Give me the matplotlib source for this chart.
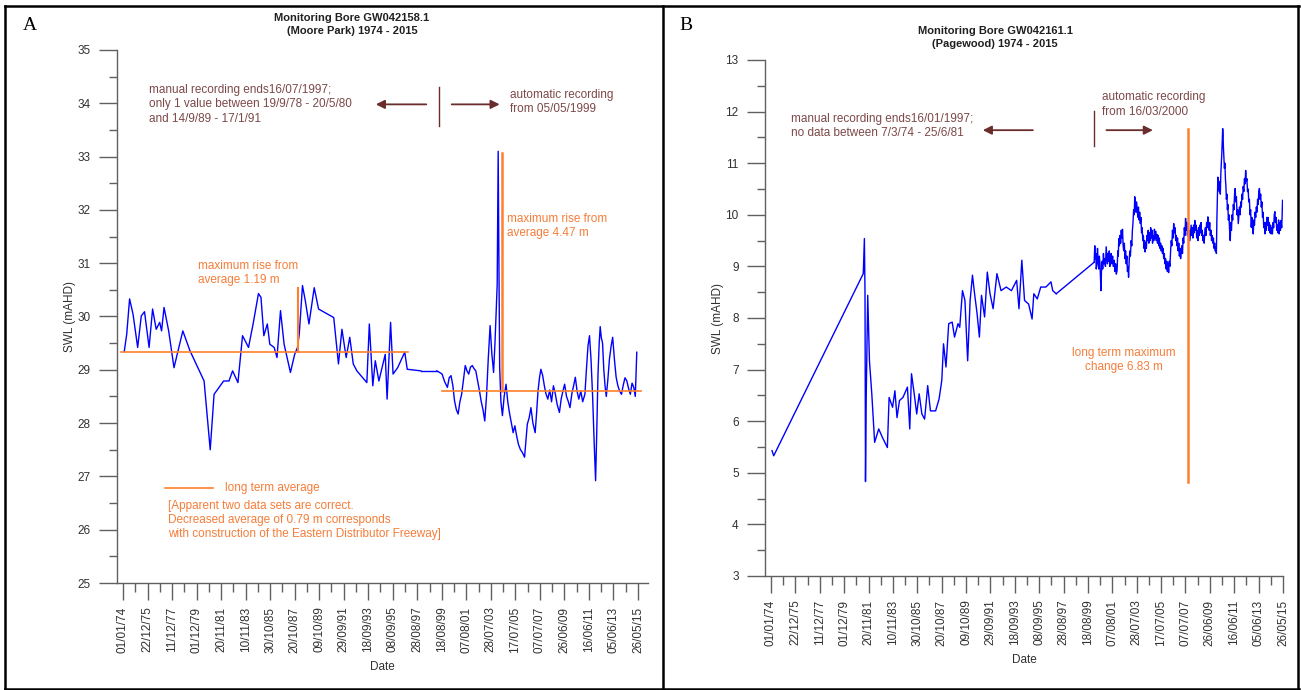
import matplotlib
matplotlib.use("Agg")
import matplotlib.pyplot as plt
import matplotlib.dates as mdates
from matplotlib.lines import Line2D
from matplotlib.ticker import FixedLocator, MultipleLocator, FuncFormatter
from datetime import datetime, timedelta

plt.rcParams['font.family'] = ['Liberation Sans', 'DejaVu Sans']

# ---------------- data (decimal year, SWL mAHD) ----------------
A_manual = [(1974.10, 29.34), (1974.30, 29.67), (1974.53, 30.33), (1974.81, 30.04), (1975.18, 29.42),
            (1975.47, 30.01), (1975.73, 30.09), (1976.10, 29.42), (1976.38, 30.14), (1976.67, 29.76),
            (1976.95, 29.89), (1977.10, 29.73), (1977.30, 30.17), (1977.67, 29.73), (1978.10, 29.04),
            (1978.81, 29.73), (1979.38, 29.36), (1980.52, 28.79), (1981.01, 27.50), (1981.32, 28.54),
            (1982.09, 28.79), (1982.52, 28.79), (1982.81, 28.98), (1983.24, 28.76), (1983.61, 29.64),
            (1984.09, 29.42), (1984.46, 29.86), (1984.89, 30.43), (1985.09, 30.36), (1985.32, 29.64),
            (1985.60, 29.86), (1985.80, 29.48), (1986.15, 29.42), (1986.38, 29.23), (1986.66, 30.11),
            (1986.95, 29.48), (1987.46, 28.95), (1987.80, 29.29), (1988.03, 29.42), (1988.17, 29.67),
            (1988.43, 30.58), (1988.66, 30.29), (1988.95, 29.86), (1989.37, 30.54), (1989.72, 30.14),
            (1990.94, 29.98), (1991.32, 29.11), (1991.60, 29.76), (1991.94, 29.23), (1992.23, 29.61),
            (1992.51, 29.11), (1992.80, 28.98), (1993.60, 28.76), (1993.80, 29.86), (1994.08, 28.70),
            (1994.28, 29.17), (1994.57, 28.79), (1995.08, 29.29), (1995.23, 28.45), (1995.51, 29.89),
            (1995.71, 28.92), (1996.08, 29.04), (1996.45, 29.23), (1996.65, 29.33), (1996.85, 29.01),
            (1997.94, 28.98)]
A_auto = [(1999.22, 28.98), (1999.45, 28.95), (1999.65, 28.92), (1999.85, 28.78), (2000.08, 28.67),
          (2000.22, 28.85), (2000.37, 28.89), (2000.52, 28.70), (2000.65, 28.42), (2000.80, 28.25),
          (2000.94, 28.17), (2001.08, 28.40), (2001.22, 28.54), (2001.36, 28.80), (2001.51, 29.08),
          (2001.65, 28.98), (2001.79, 28.92), (2001.93, 29.05), (2002.08, 29.08), (2002.22, 29.02),
          (2002.36, 28.98), (2002.50, 28.80), (2002.65, 28.61), (2002.80, 28.40), (2002.94, 28.25),
          (2003.08, 28.04), (2003.22, 28.50), (2003.36, 29.20), (2003.51, 29.83), (2003.65, 29.30),
          (2003.79, 28.95), (2003.90, 29.50), (2003.99, 30.04), (2004.08, 30.60), (2004.16, 33.10),
          (2004.22, 31.00), (2004.28, 29.04), (2004.38, 28.40), (2004.50, 28.14), (2004.64, 28.50),
          (2004.79, 28.73), (2004.93, 28.40), (2005.08, 28.17), (2005.22, 28.00), (2005.36, 27.82),
          (2005.50, 27.95), (2005.65, 27.75), (2005.79, 27.60), (2005.95, 27.50), (2006.10, 27.45),
          (2006.28, 27.36), (2006.40, 27.70), (2006.50, 27.98), (2006.65, 28.10), (2006.79, 28.29),
          (2006.95, 28.00), (2007.13, 27.82), (2007.25, 28.20), (2007.36, 28.60), (2007.48, 28.85),
          (2007.59, 29.01), (2007.73, 28.90), (2007.87, 28.70), (2008.00, 28.55), (2008.15, 28.45),
          (2008.30, 28.62), (2008.45, 28.40), (2008.60, 28.70), (2008.75, 28.55), (2008.90, 28.35),
          (2009.08, 28.20), (2009.22, 28.45), (2009.36, 28.60), (2009.50, 28.73), (2009.65, 28.50),
          (2009.80, 28.40), (2009.93, 28.29), (2010.08, 28.55), (2010.22, 28.70), (2010.36, 28.86),
          (2010.50, 28.60), (2010.64, 28.45), (2010.80, 28.60), (2010.95, 28.40), (2011.13, 28.54),
          (2011.25, 29.00), (2011.38, 29.45), (2011.50, 29.64), (2011.62, 29.20), (2011.75, 28.50),
          (2011.88, 27.60), (2011.99, 26.92), (2012.08, 27.80), (2012.18, 28.90), (2012.28, 29.50),
          (2012.36, 29.81), (2012.45, 29.60), (2012.55, 29.50), (2012.65, 29.00), (2012.75, 28.70),
          (2012.85, 28.50), (2012.97, 28.80), (2013.10, 29.20), (2013.24, 29.45), (2013.36, 29.61),
          (2013.50, 29.20), (2013.64, 28.86), (2013.78, 28.70), (2013.92, 28.60), (2014.07, 28.54),
          (2014.20, 28.70), (2014.35, 28.85), (2014.50, 28.79), (2014.64, 28.65), (2014.78, 28.54),
          (2014.92, 28.75), (2015.06, 28.67), (2015.18, 28.50), (2015.30, 29.33)]

B_manual = [(1974.08, 5.43), (1974.22, 5.33), (1981.46, 8.86), (1981.55, 9.54), (1981.60, 8.50),
            (1981.64, 4.83), (1981.70, 6.50), (1981.82, 8.44), (1981.96, 7.17), (1982.15, 6.53),
            (1982.38, 5.59), (1982.71, 5.85), (1983.00, 5.69), (1983.41, 5.49), (1983.55, 6.46),
            (1983.83, 6.27), (1984.02, 6.59), (1984.19, 6.07), (1984.39, 6.40), (1984.67, 6.46),
            (1985.03, 6.66), (1985.22, 5.85), (1985.36, 6.92), (1985.58, 6.53), (1985.78, 6.14),
            (1985.98, 6.53), (1986.20, 6.14), (1986.42, 6.04), (1986.67, 6.69), (1986.89, 6.20),
            (1987.31, 6.20), (1987.59, 6.43), (1987.81, 6.79), (1987.95, 7.50), (1988.15, 7.05),
            (1988.37, 7.89), (1988.65, 7.92), (1988.84, 7.63), (1989.12, 7.89), (1989.26, 7.82),
            (1989.48, 8.53), (1989.68, 8.34), (1989.90, 7.17), (1990.10, 8.34), (1990.29, 8.83),
            (1990.46, 8.47), (1990.65, 8.11), (1990.85, 7.63), (1991.02, 8.44), (1991.27, 8.02),
            (1991.49, 8.89), (1991.71, 8.47), (1991.96, 8.18), (1992.27, 8.86), (1992.60, 8.53),
            (1993.02, 8.60), (1993.44, 8.53), (1993.86, 8.73), (1994.05, 8.18), (1994.28, 9.12),
            (1994.50, 8.34), (1994.83, 8.27), (1995.11, 7.98), (1995.25, 8.47), (1995.53, 8.37),
            (1995.81, 8.60), (1996.23, 8.60), (1996.64, 8.70), (1996.78, 8.53), (1997.06, 8.47)]
B_auto = [(2000.13, 9.08), (2000.18, 9.40), (2000.22, 9.15), (2000.26, 9.25), (2000.30, 8.95),
          (2000.35, 9.05), (2000.40, 9.35), (2000.45, 9.10), (2000.50, 8.95), (2000.55, 9.20),
          (2000.60, 9.05), (2000.65, 8.70), (2000.68, 8.53), (2000.72, 8.90), (2000.78, 9.10),
          (2000.82, 8.95), (2000.88, 9.25), (2000.93, 9.05), (2000.98, 9.15), (2001.04, 9.00),
          (2001.10, 9.38), (2001.15, 9.20), (2001.20, 9.05), (2001.25, 9.25), (2001.30, 9.10),
          (2001.35, 9.30), (2001.40, 9.00), (2001.45, 9.15), (2001.50, 9.25), (2001.56, 9.05),
          (2001.62, 9.20), (2001.68, 9.00), (2001.75, 9.12), (2001.80, 8.90), (2001.86, 9.05),
          (2001.92, 8.85), (2001.98, 8.92), (2002.04, 9.30), (2002.08, 9.20), (2002.12, 9.54),
          (2002.17, 9.40), (2002.22, 9.60), (2002.27, 9.45), (2002.32, 9.70), (2002.37, 9.55),
          (2002.42, 9.72), (2002.47, 9.40), (2002.52, 9.30), (2002.57, 9.45), (2002.62, 9.15),
          (2002.67, 9.30), (2002.72, 9.05), (2002.77, 9.20), (2002.82, 8.90), (2002.87, 9.00),
          (2002.91, 8.79), (2002.96, 9.10), (2003.01, 9.30), (2003.06, 9.20), (2003.12, 9.50),
          (2003.17, 9.40), (2003.22, 9.70), (2003.27, 9.85), (2003.32, 10.10), (2003.37, 10.00),
          (2003.41, 10.35), (2003.46, 10.25), (2003.51, 10.05), (2003.56, 10.25), (2003.61, 10.10),
          (2003.66, 9.95), (2003.71, 10.15), (2003.76, 9.90), (2003.81, 10.05), (2003.86, 9.83),
          (2003.91, 9.95), (2003.96, 9.65), (2004.01, 9.75), (2004.06, 9.50), (2004.11, 9.60),
          (2004.16, 9.35), (2004.21, 9.50), (2004.25, 9.28), (2004.30, 9.45), (2004.35, 9.35),
          (2004.40, 9.60), (2004.45, 9.50), (2004.50, 9.70), (2004.55, 9.45), (2004.60, 9.65),
          (2004.65, 9.50), (2004.70, 9.75), (2004.75, 9.55), (2004.80, 9.70), (2004.85, 9.45),
          (2004.90, 9.60), (2004.95, 9.50), (2005.00, 9.72), (2005.05, 9.55), (2005.10, 9.68),
          (2005.15, 9.50), (2005.20, 9.62), (2005.25, 9.45), (2005.30, 9.60), (2005.35, 9.40),
          (2005.40, 9.55), (2005.45, 9.35), (2005.50, 9.45), (2005.55, 9.30), (2005.60, 9.40),
          (2005.65, 9.25), (2005.70, 9.35), (2005.75, 9.15), (2005.80, 9.25), (2005.85, 9.05),
          (2005.90, 9.15), (2005.95, 8.95), (2006.00, 9.10), (2006.05, 8.90), (2006.10, 9.05),
          (2006.15, 8.88), (2006.20, 9.10), (2006.25, 9.00), (2006.31, 9.30), (2006.36, 9.50),
          (2006.41, 9.40), (2006.46, 9.70), (2006.51, 9.55), (2006.56, 9.83), (2006.61, 9.65),
          (2006.67, 9.75), (2006.72, 9.50), (2006.77, 9.60), (2006.82, 9.40), (2006.87, 9.55),
          (2006.92, 9.30), (2006.97, 9.45), (2007.02, 9.20), (2007.07, 9.35), (2007.12, 9.15),
          (2007.17, 9.30), (2007.22, 9.40), (2007.27, 9.25), (2007.32, 9.55), (2007.37, 9.45),
          (2007.42, 9.75), (2007.47, 9.60), (2007.52, 9.93), (2007.57, 9.70), (2007.62, 9.85),
          (2007.67, 9.60), (2007.72, 9.75), (2007.77, 9.55), (2007.82, 9.70), (2007.87, 9.50),
          (2007.92, 9.65), (2007.97, 9.80), (2008.02, 9.60), (2008.07, 9.75), (2008.12, 9.55),
          (2008.17, 9.80), (2008.22, 9.65), (2008.27, 9.89), (2008.32, 9.70), (2008.37, 9.80),
          (2008.42, 9.55), (2008.47, 9.70), (2008.52, 9.50), (2008.57, 9.75), (2008.62, 9.60),
          (2008.67, 9.80), (2008.72, 9.65), (2008.77, 9.85), (2008.82, 9.60), (2008.87, 9.70),
          (2008.92, 9.50), (2008.97, 9.60), (2009.02, 9.45), (2009.07, 9.65), (2009.12, 9.75),
          (2009.17, 9.60), (2009.22, 9.85), (2009.27, 9.75), (2009.32, 9.96), (2009.37, 9.80),
          (2009.42, 9.70), (2009.47, 9.85), (2009.52, 9.60), (2009.57, 9.70), (2009.62, 9.50),
          (2009.67, 9.60), (2009.72, 9.45), (2009.77, 9.55), (2009.82, 9.35), (2009.87, 9.45),
          (2009.92, 9.30), (2009.97, 9.38), (2010.01, 9.25), (2010.05, 9.90), (2010.09, 10.30),
          (2010.13, 10.73), (2010.17, 10.50), (2010.21, 10.65), (2010.25, 10.45), (2010.29, 10.60),
          (2010.33, 10.40), (2010.37, 10.80), (2010.41, 11.00), (2010.45, 11.20), (2010.49, 11.45),
          (2010.52, 11.67), (2010.55, 11.55), (2010.58, 11.30), (2010.62, 11.10), (2010.66, 10.90),
          (2010.70, 11.00), (2010.74, 10.70), (2010.78, 10.55), (2010.82, 10.30), (2010.86, 10.40),
          (2010.90, 10.10), (2010.94, 10.20), (2010.98, 9.90), (2011.03, 10.00), (2011.08, 9.70),
          (2011.13, 9.50), (2011.18, 9.85), (2011.23, 9.70), (2011.28, 10.00), (2011.33, 9.90),
          (2011.38, 10.20), (2011.43, 10.10), (2011.48, 10.40), (2011.53, 10.51), (2011.58, 10.25),
          (2011.63, 10.35), (2011.68, 10.00), (2011.73, 10.10), (2011.78, 9.83), (2011.83, 10.00),
          (2011.88, 10.15), (2011.93, 10.00), (2011.98, 10.25), (2012.03, 10.15), (2012.08, 10.40),
          (2012.13, 10.30), (2012.18, 10.55), (2012.23, 10.45), (2012.28, 10.70), (2012.33, 10.60),
          (2012.38, 10.86), (2012.43, 10.65), (2012.48, 10.70), (2012.53, 10.45), (2012.58, 10.50),
          (2012.63, 10.25), (2012.68, 10.30), (2012.73, 10.00), (2012.78, 10.10), (2012.83, 9.76),
          (2012.88, 9.95), (2012.93, 9.75), (2012.99, 9.63), (2013.04, 9.90), (2013.09, 9.80),
          (2013.14, 10.05), (2013.19, 9.95), (2013.24, 10.15), (2013.29, 10.05), (2013.34, 10.30),
          (2013.39, 10.20), (2013.44, 10.45), (2013.49, 10.51), (2013.54, 10.30), (2013.59, 10.40),
          (2013.64, 10.15), (2013.69, 10.25), (2013.74, 9.95), (2013.79, 10.05), (2013.84, 9.75),
          (2013.89, 9.85), (2013.94, 9.63), (2013.99, 9.85), (2014.04, 9.70), (2014.09, 9.95),
          (2014.14, 9.80), (2014.19, 9.95), (2014.24, 9.70), (2014.29, 9.85), (2014.34, 9.65),
          (2014.39, 9.80), (2014.44, 9.63), (2014.49, 9.75), (2014.54, 9.63), (2014.59, 9.85),
          (2014.64, 9.75), (2014.69, 10.00), (2014.74, 10.06), (2014.79, 9.85), (2014.84, 9.95),
          (2014.89, 9.70), (2014.94, 9.80), (2014.99, 9.65), (2015.04, 9.90), (2015.09, 9.63),
          (2015.14, 9.85), (2015.19, 9.70), (2015.24, 9.89), (2015.29, 9.75), (2015.33, 10.00),
          (2015.36, 10.28)]

A_avg_manual = 29.34
A_avg_auto = 28.60
A_rise_manual = 1.19
A_rise_auto = 4.47
B_min = 4.83
B_change = 6.83

tick_start = datetime(1974, 1, 1)
tick_step_days = 720
n_ticks = 22

# ---------------- helpers ----------------
W, H = 1301, 690
BLUE = '#0000ff'
ORANGE = '#ff7f2a'
ORANGE_TXT = '#f57d3a'
BROWN_TXT = '#7d4848'
BROWN = '#6b2c2c'
AX_COL = '#606060'
TXT_COL = '#303030'


def yd(y):
    yi = int(y)
    return mdates.date2num(datetime(yi, 1, 1) + timedelta(days=(y - yi) * 365.25))


def series(pairs):
    return [yd(p[0]) for p in pairs], [p[1] for p in pairs]


fig = plt.figure(figsize=(W / 100, H / 100), dpi=100)


def px_axes(l, r, t, b):
    return fig.add_axes([l / W, 1 - b / H, (r - l) / W, (b - t) / H])


major = [tick_start + timedelta(days=tick_step_days * k) for k in range(n_ticks)]
minor = [tick_start + timedelta(days=tick_step_days * k + 360) for k in range(n_ticks - 1)]
major_num = mdates.date2num(major)
minor_num = mdates.date2num(minor)


def style(ax, ylo, yhi, xl_off, xr_off):
    ax.set_xlim(major_num[0] - xl_off, major_num[-1] + xr_off)
    ax.set_ylim(ylo, yhi)
    for s in ['top', 'right']:
        ax.spines[s].set_visible(False)
    for s in ['left', 'bottom']:
        ax.spines[s].set_color(AX_COL)
        ax.spines[s].set_linewidth(1.0)
    ax.xaxis.set_major_locator(FixedLocator(major_num))
    ax.xaxis.set_minor_locator(FixedLocator(minor_num))
    ax.xaxis.set_major_formatter(mdates.DateFormatter('%d/%m/%y'))
    ax.yaxis.set_major_locator(MultipleLocator(1))
    ax.yaxis.set_minor_locator(MultipleLocator(0.5))
    ax.yaxis.set_major_formatter(FuncFormatter(lambda v, p: f'{v:.0f}'))
    ax.tick_params(axis='x', which='major', length=12, width=1.0, color=AX_COL, pad=5,
                   labelsize=8.5, labelcolor=TXT_COL, labelrotation=90)
    ax.tick_params(axis='x', which='minor', length=6.5, width=1.0, color=AX_COL)
    ax.tick_params(axis='y', which='major', length=13, width=1.0, color=AX_COL, pad=6,
                   labelsize=8.5, labelcolor=TXT_COL)
    ax.tick_params(axis='y', which='minor', length=6, width=1.0, color=AX_COL)
    ax.set_xlabel('Date', fontsize=8.5, color=TXT_COL, labelpad=6)
    ax.set_ylabel('SWL (mAHD)', fontsize=8.5, color=TXT_COL, labelpad=1)
    ax.patch.set_alpha(0)


arrow_kw = dict(arrowstyle='-|>', color=BROWN, lw=1.3, mutation_scale=13)

# ---------------- Panel A ----------------
axA = px_axes(117, 648, 50, 583)
style(axA, 25, 35, 176, 294)
for part in (A_manual, A_auto):
    xs, ys = series(part)
    axA.plot(xs, ys, color=BLUE, lw=1.0, zorder=3)
xs, ys = series([A_manual[-1], A_auto[0]])
axA.plot(xs, ys, color=BLUE, lw=1.0, zorder=3)
axA.plot([yd(1973.80), yd(1996.90)], [A_avg_manual, A_avg_manual], color=ORANGE, lw=1.2, zorder=4)
axA.plot([yd(1999.65), yd(2015.65)], [A_avg_auto, A_avg_auto], color=ORANGE, lw=1.2, zorder=4)
axA.plot([yd(1988.10)] * 2, [A_avg_manual, A_avg_manual + A_rise_manual], color=ORANGE, lw=1.5, zorder=4)
axA.plot([yd(2004.50)] * 2, [A_avg_auto, A_avg_auto + A_rise_auto], color=ORANGE, lw=1.8, zorder=4)

axA.text(yd(1980.0), 30.81, 'maximum rise from\naverage 1.19 m', color=ORANGE_TXT, fontsize=8.5,
         ha='left', va='center', linespacing=1.25)
axA.text(yd(2004.85), 31.70, 'maximum rise from\naverage 4.47 m', color=ORANGE_TXT, fontsize=8.5,
         ha='left', va='center', linespacing=1.25)
axA.plot([yd(1977.4), yd(1981.2)], [26.78, 26.78], color=ORANGE, lw=1.2)
axA.text(yd(1982.2), 26.78, 'long term average', color=ORANGE_TXT, fontsize=8.5, ha='left', va='center')
axA.text(yd(1977.6), 26.18, '[Apparent two data sets are correct.\nDecreased average of 0.79 m corresponds\n'
         'with construction of the Eastern Distributor Freeway]', color=ORANGE_TXT, fontsize=8.5,
         ha='left', va='center', linespacing=1.25)

axA.text(yd(1976.1), 33.98, 'manual recording ends16/07/1997;\nonly 1 value between 19/9/78 - 20/5/80\n'
         'and 14/9/89 - 17/1/91', color=BROWN_TXT, fontsize=8.5, ha='left', va='center', linespacing=1.25)
axA.annotate('', xy=(yd(1994.1), 33.98), xytext=(yd(1998.6), 33.98), arrowprops=arrow_kw)
axA.plot([yd(1999.4)] * 2, [33.58, 34.30], color=BROWN, lw=1.0)
axA.annotate('', xy=(yd(2004.5), 33.98), xytext=(yd(2000.2), 33.98), arrowprops=arrow_kw)
axA.text(yd(2005.1), 34.02, 'automatic recording\nfrom 05/05/1999', color=BROWN_TXT, fontsize=8.5,
         ha='left', va='center', linespacing=1.25)

# ---------------- Panel B ----------------
axB = px_axes(765, 1283, 60, 576)
style(axB, 3, 13, 177, 0)
for part in (B_manual, B_auto):
    xs, ys = series(part)
    axB.plot(xs, ys, color=BLUE, lw=1.0, zorder=3)
xs, ys = series([B_manual[-1], B_auto[0]])
axB.plot(xs, ys, color=BLUE, lw=1.0, zorder=3)
axB.plot([yd(2007.73)] * 2, [B_min, B_min + B_change], color=ORANGE, lw=1.8, zorder=4)
axB.text(yd(2002.55), 7.19, 'long term maximum\nchange 6.83 m', color=ORANGE_TXT, fontsize=8.5,
         ha='center', va='center', linespacing=1.25)
axB.text(yd(1975.6), 11.72, 'manual recording ends16/01/1997;\nno data between 7/3/74 - 25/6/81',
         color=BROWN_TXT, fontsize=8.5, ha='left', va='center', linespacing=1.25)
axB.annotate('', xy=(yd(1990.9), 11.64), xytext=(yd(1995.4), 11.64), arrowprops=arrow_kw)
axB.plot([yd(2000.12)] * 2, [11.33, 12.02], color=BROWN, lw=1.0)
axB.annotate('', xy=(yd(2005.1), 11.64), xytext=(yd(2000.9), 11.64), arrowprops=arrow_kw)
axB.text(yd(2000.8), 12.14, 'automatic recording\nfrom 16/03/2000', color=BROWN_TXT, fontsize=8.5,
         ha='left', va='center', linespacing=1.25)

# ---------------- titles, letters, frame ----------------
TITLE_KW = dict(ha='center', va='center', fontsize=8, fontweight='bold', color='#202020')
fig.text(352 / W, 1 - 18 / H, 'Monitoring Bore GW042158.1', **TITLE_KW)
fig.text(352 / W, 1 - 31 / H, '(Moore Park) 1974 - 2015', **TITLE_KW)
fig.text(995 / W, 1 - 31 / H, 'Monitoring Bore GW042161.1', **TITLE_KW)
fig.text(995 / W, 1 - 44 / H, '(Pagewood) 1974 - 2015', **TITLE_KW)
fig.text(30 / W, 1 - 25 / H, 'A', ha='center', va='center', fontsize=14, family='Liberation Serif')
fig.text(686 / W, 1 - 25 / H, 'B', ha='center', va='center', fontsize=14, family='Liberation Serif')


def hline(x0, x1, y):
    fig.add_artist(Line2D([x0 / W, x1 / W], [1 - y / H, 1 - y / H], color='black', lw=1.8))


def vline(x, y0, y1):
    fig.add_artist(Line2D([x / W, x / W], [1 - y0 / H, 1 - y1 / H], color='black', lw=1.8))


hline(5, 1299, 6)
hline(5, 1299, 689)
vline(5, 6, 689)
vline(663, 6, 689)
vline(1298, 6, 689)

fig.savefig('out.png', dpi=100)
